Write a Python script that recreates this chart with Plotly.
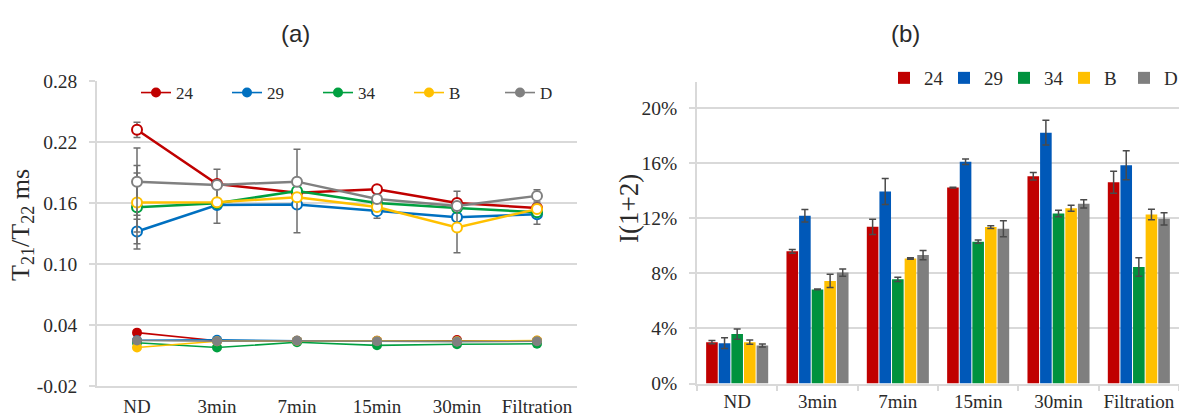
import plotly.graph_objects as go

# ---- data ----
categories = ["ND", "3min", "7min", "15min", "30min", "Filtration"]
series_names = ["24", "29", "34", "B", "D"]

# (a) T22 (open markers) and T21 (filled markers), ms
t22_24 = [0.232, 0.1787, 0.170, 0.1735, 0.160, 0.155]
t22_29 = [0.132, 0.158, 0.1585, 0.152, 0.146, 0.149]
t22_34 = [0.1558, 0.1597, 0.1718, 0.160, 0.155, 0.151]
t22_B = [0.1605, 0.1607, 0.1656, 0.1560, 0.136, 0.154]
t22_D = [0.181, 0.1777, 0.181, 0.1640, 0.157, 0.167]

err22_24 = [0.0075, 0.0145, 0.0, 0.0, 0.0115, 0.0]
err22_29 = [0.012, 0.018, 0.0, 0.007, 0.0, 0.010]
err22_34 = [0.041, 0.0, 0.041, 0.0, 0.0, 0.0]
err22_B = [0.029, 0.0, 0.0, 0.0, 0.025, 0.0]
err22_D = [0.033, 0.0, 0.0, 0.0, 0.0, 0.006]

t21_24 = [0.0325, 0.0245, 0.0245, 0.0245, 0.0252, 0.0245]
t21_29 = [0.0250, 0.0255, 0.0245, 0.0240, 0.0240, 0.0243]
t21_34 = [0.0225, 0.0178, 0.0230, 0.0200, 0.0210, 0.0215]
t21_B = [0.0178, 0.0240, 0.0245, 0.0245, 0.0240, 0.0248]
t21_D = [0.0248, 0.0240, 0.0245, 0.0240, 0.0235, 0.0240]

# left value-axis ticks
t_ticks = [-0.02, 0.04, 0.10, 0.16, 0.22, 0.28]
t_ticklabels = ["-0.02", "0.04", "0.10", "0.16", "0.22", "0.28"]

# (b) I(1+2), percent
i_24 = [3.00, 9.59, 11.37, 14.22, 15.04, 14.60]
i_29 = [2.93, 12.17, 13.93, 16.10, 18.20, 15.84]
i_34 = [3.59, 6.83, 7.56, 10.29, 12.34, 8.46]
i_B = [3.00, 7.44, 9.07, 11.35, 12.72, 12.27]
i_D = [2.76, 8.05, 9.32, 11.23, 13.04, 11.95]

e_24 = [0.12, 0.13, 0.55, 0.03, 0.27, 0.80]
e_29 = [0.39, 0.45, 0.94, 0.20, 0.90, 1.05]
e_34 = [0.37, 0.03, 0.15, 0.12, 0.24, 0.67]
e_B = [0.16, 0.48, 0.05, 0.10, 0.22, 0.38]
e_D = [0.11, 0.26, 0.34, 0.58, 0.30, 0.45]

# ---- styling ----
line_colors = ["#C00000", "#0070C0", "#00A040", "#FFC000", "#808080"]
bar_colors = ["#C00000", "#0058B8", "#00923E", "#FFC000", "#7F7F7F"]
GRID = "#D9D9D9"
SERIF = "Liberation Serif"
NARROW = "Liberation Sans Narrow, Liberation Sans"
INK = "#2A2A2A"
W, H = 1179, 418


def px_x(x):
    return x / W


def px_y(y):
    return (H - y) / H


t22 = [t22_24, t22_29, t22_34, t22_B, t22_D]
err22 = [err22_24, err22_29, err22_34, err22_B, err22_D]
t21 = [t21_24, t21_29, t21_34, t21_B, t21_D]
inten = [i_24, i_29, i_34, i_B, i_D]
inten_err = [e_24, e_29, e_34, e_B, e_D]

fig = go.Figure()

# (a) lower group: T21, filled markers (legend entries)
for name, ys, col in zip(series_names, t21, line_colors):
    fig.add_trace(go.Scatter(
        x=categories, y=ys, name=name, mode="lines+markers",
        line=dict(color=col, width=1.6),
        marker=dict(size=10, color=col, symbol="circle"),
        xaxis="x", yaxis="y", legend="legend",
    ))

# (a) upper group: T22, open markers with error bars
for name, ys, es, col in zip(series_names, t22, err22, line_colors):
    fig.add_trace(go.Scatter(
        x=categories, y=ys, name=name, mode="lines+markers", showlegend=False,
        line=dict(color=col, width=2.5),
        marker=dict(size=10, color="white", symbol="circle",
                    line=dict(color=col, width=2)),
        error_y=dict(type="data", array=es, visible=True,
                     color="#6E6E6E", thickness=1.5, width=3.5),
        xaxis="x", yaxis="y",
    ))

# (b) grouped bars with error bars
for name, ys, es, col in zip(series_names, inten, inten_err, bar_colors):
    fig.add_trace(go.Bar(
        x=categories, y=ys, name=name,
        marker=dict(color=col, line=dict(width=0)),
        error_y=dict(type="data", array=es, visible=True,
                     color="#4A4A4A", thickness=1.5, width=3.5),
        xaxis="x2", yaxis="y2", legend="legend2",
    ))

tick_font = dict(family=SERIF, size=19.5, color=INK)
cat_font = dict(family=SERIF, size=19, color=INK)

fig.update_layout(
    width=W, height=H, autosize=False,
    margin=dict(l=0, r=0, t=0, b=0, autoexpand=False),
    paper_bgcolor="white", plot_bgcolor="white",
    barmode="group", bargap=0.215, bargroupgap=0.08,
    xaxis=dict(
        domain=[px_x(97), px_x(577)], type="category",
        range=[-0.5, 5.5], showgrid=False, showline=True,
        linecolor=GRID, linewidth=1.5, ticks="", tickfont=cat_font,
        tickangle=0, ticklabelstandoff=2, anchor="y",
    ),
    yaxis=dict(
        domain=[px_y(386), px_y(81)], range=[-0.02, 0.28],
        tickmode="array", tickvals=t_ticks, ticktext=t_ticklabels,
        showgrid=True, gridcolor=GRID, gridwidth=1.5,
        showline=True, linecolor=GRID, linewidth=1.5,
        ticks="outside", ticklen=6, tickcolor=GRID, tickwidth=1.5,
        tickfont=tick_font, ticklabelstandoff=8, zeroline=False,
        anchor="x",
    ),
    xaxis2=dict(
        domain=[px_x(697), 1.0], type="category",
        range=[-0.5, 5.5], showgrid=False, showline=True,
        linecolor=GRID, linewidth=1.5,
        ticks="outside", tickson="boundaries", ticklen=6,
        tickcolor=GRID, tickwidth=1.5, tickfont=cat_font,
        tickangle=0, ticklabelstandoff=0, anchor="y2",
    ),
    yaxis2=dict(
        domain=[px_y(383.5), px_y(82)], range=[0, 21.88],
        tick0=0, dtick=4, ticksuffix="%",
        showgrid=True, gridcolor=GRID, gridwidth=1.5,
        showline=True, linecolor=GRID, linewidth=1.5,
        ticks="outside", ticklen=6, tickcolor=GRID, tickwidth=1.5,
        tickfont=tick_font, ticklabelstandoff=8, zeroline=False,
        anchor="x2",
    ),
    legend=dict(
        orientation="h", xref="container", yref="container",
        x=px_x(136), y=px_y(93), xanchor="left", yanchor="middle",
        itemwidth=30, entrywidth=46, entrywidthmode="pixels",
        font=dict(family=SERIF, size=17, color=INK),
        bgcolor="rgba(0,0,0,0)", itemclick=False,
    ),
    legend2=dict(
        orientation="h", xref="container", yref="container",
        x=px_x(884), y=px_y(78), xanchor="left", yanchor="middle",
        itemwidth=30, entrywidth=15, entrywidthmode="pixels",
        font=dict(family=SERIF, size=19, color=INK),
        bgcolor="rgba(0,0,0,0)", itemclick=False,
    ),
    annotations=[
        dict(text="(a)", x=px_x(295), y=px_y(34), xref="paper", yref="paper",
             xanchor="center", yanchor="middle", showarrow=False,
             font=dict(family=NARROW, size=24, color=INK)),
        dict(text="(b)", x=px_x(905), y=px_y(34), xref="paper", yref="paper",
             xanchor="center", yanchor="middle", showarrow=False,
             font=dict(family=NARROW, size=24, color=INK)),
        dict(text="T<sub>21</sub>/T<sub>22</sub> ms", x=px_x(22), y=px_y(225),
             xref="paper", yref="paper", xanchor="center", yanchor="middle",
             showarrow=False, textangle=-90,
             font=dict(family=SERIF, size=26, color=INK)),
        dict(text="I(1+2)", x=px_x(629), y=px_y(209),
             xref="paper", yref="paper", xanchor="center", yanchor="middle",
             showarrow=False, textangle=-90,
             font=dict(family=SERIF, size=27, color=INK)),
    ],
)

fig.write_html("out.html")
